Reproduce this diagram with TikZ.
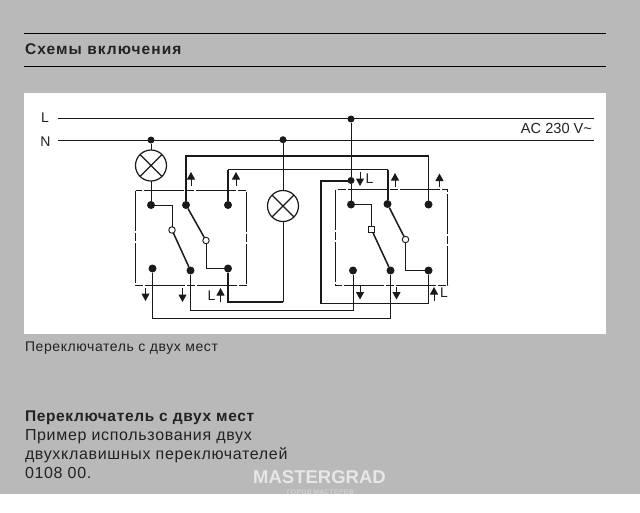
\documentclass[tikz,border=0pt]{standalone}
\usepackage{fontspec}
\setmainfont{Liberation Sans}
\newfontfamily\spacedfont[LetterSpace=4.2]{Liberation Sans}
\newfontfamily\titlefont[LetterSpace=7]{Liberation Sans}
\newfontfamily\markfont[LetterSpace=9]{Liberation Sans}
\usepackage{xcolor}
\usetikzlibrary{arrows.meta}
\definecolor{pageGrey}{HTML}{B9B9B9}
\definecolor{inkGrey}{HTML}{222222}
\definecolor{wireBlack}{HTML}{1A1A1A}
\begin{document}
\begin{tikzpicture}[
  x=1pt, y=-1pt,
  every node/.style={inner sep=0pt, outer sep=0pt, text=inkGrey},
  wire/.style={draw=wireBlack, line width=1pt},
  hwire/.style={draw=wireBlack, line width=2pt},
  arm/.style={draw=wireBlack, line width=1.5pt},
  rule/.style={draw=black, line width=0.8pt},
  housing/.style={draw=wireBlack, line width=0.8pt, dash pattern=on 40pt off 2pt on 8pt off 2pt},
  term/.style={circle, fill=wireBlack, minimum size=8pt},
  dotj/.style={circle, fill=wireBlack, minimum size=7pt},
  piv/.style={circle, draw=wireBlack, fill=white, line width=0.9pt, minimum size=6.5pt},
  pivs/.style={rectangle, draw=wireBlack, fill=white, line width=0.9pt, minimum size=6pt},
  lamp/.style={circle, draw=wireBlack, fill=white, line width=1.2pt, minimum size=31pt, path picture={
    \draw[wireBlack, line width=1.2pt] (path picture bounding box.south west) -- (path picture bounding box.north east)
      (path picture bounding box.north west) -- (path picture bounding box.south east);}},
  arr/.style={-{Triangle[length=7.5pt,width=8pt]}, draw=wireBlack, line width=1pt},
  lab/.style={font=\fontsize{14}{14}\selectfont, anchor=center},
  captxt/.style={font=\spacedfont\fontsize{16}{19}\selectfont, anchor=north west, align=left}
]
\useasboundingbox (0,0) rectangle (640,512);
\fill[pageGrey] (0,0) rectangle (640,493.5);
\fill[white] (24,92.5) rectangle (606,333.5);

% header
\coordinate (hA) at (24,33.5);
\coordinate (hB) at (606,33.5);
\coordinate (hC) at (24,66);
\coordinate (hD) at (606,66);
\draw[rule, line width=1.5pt] (hA) -- (hB);
\draw[rule] (hC) -- (hD);
\node[font=\titlefont\bfseries\fontsize{15.5}{15.5}\selectfont, anchor=west] (title) at (25,49) {Схемы включения};

% supply lines
\node[lab] (labL) at (45,118) {L};
\node[lab] (labN) at (45.5,141.5) {N};
\coordinate (L0) at (58,118.5);
\coordinate (L1) at (594,118.5);
\coordinate (N0) at (58,140.5);
\coordinate (N1) at (594,140.5);
\draw[wire] (L0) -- (L1);
\draw[wire] (N0) -- (N1);
\node[font=\fontsize{14.6}{14.6}\selectfont, anchor=east] (ac) at (592,128.5) {AC 230 V\char"7E};

% housings
\draw[housing] (135.5,190.5) rectangle (246.5,285.5);
\draw[housing] (335.5,189.5) rectangle (447.5,285.5);

% left switch
\node[term] (A1) at (151,205) {};
\node[term] (A2) at (186,205) {};
\node[term] (A3) at (228,205) {};
\node[term] (A4) at (152.5,268.5) {};
\node[term] (A5) at (190.5,270.5) {};
\node[term] (A6) at (228,268.5) {};
\node[dotj] (NA) at (151,140) {};
\node[lamp] (E1) at (151,165.5) {};
\draw[wire] (NA) -- (E1);
\draw[wire] (E1) -- (A1);

% right switch
\node[term] (B1) at (351,204.5) {};
\node[term] (B2) at (387.5,204) {};
\node[term] (B3) at (428.5,204.5) {};
\node[term] (B4) at (353,270.5) {};
\node[term] (B5) at (390.5,270.5) {};
\node[term] (B6) at (428.5,270.5) {};
\node[dotj] (LB) at (351,119) {};
\node[dotj] (JB) at (351,180.5) {};
\draw[wire] (LB) -- (JB);
\draw[wire] (JB) -- (B1);

% middle lamp
\node[dotj] (NM) at (283,139.7) {};
\node[lamp] (E2) at (283,206) {};
\draw[wire] (NM) -- (E2);
\draw[wire] (E2.south) -- (283,301.5) coordinate (cM);
\draw[hwire] (cM) -- (228,301.5) -- (A6);

% contacts, left
\node[piv] (P1) at (172,230) {};
\node[piv] (P2) at (206,240.5) {};
\draw[wire] (A1.center) -- (172,205) -- (P1);
\draw[arm] (P1) -- (A5);
\draw[arm] (A2) -- (P2);
\draw[wire] (P2) -- (206,268.5) -- (A6);

% contacts, right
\node[pivs] (Q1) at (371.5,229.5) {};
\node[piv] (Q2) at (405.5,239.5) {};
\draw[hwire, line width=1.5pt] (B1.center) -- (371.5,204.5) -- (Q1);
\draw[arm] (Q1) -- (B5);
\draw[arm] (B2) -- (Q2);
\draw[wire] (Q2) -- (405.5,270.5) -- (B6);

% travellers
\draw[hwire] (A2) -- (186,156) -- (428.5,156);
\draw[wire] (428.5,156) -- (B3);
\draw[hwire] (A3) -- (228,169.5);
\draw[wire] (228,169.5) -- (387.5,169.5);
\draw[hwire] (387.5,169.5) -- (B2);
\draw[hwire] (JB) -- (320.5,180.5) -- (320.5,303.5);
\draw[wire] (320.5,303.5) -- (428.5,303.5) -- (B6);
\draw[wire] (A5) -- (190.5,310.5) -- (353,310.5) -- (B4);
\draw[wire] (A4) -- (152.5,318.5) -- (390.5,318.5) -- (B5);

% arrows
\foreach \ax/\ay/\bx/\by in {191/185.5/191/172, 236/185.5/236/172, 220.5/302/220.5/288, 145.5/288/145.5/301, 182.5/288/182.5/302,
    360/172/360/186, 395/187/395/173, 439.5/187/439.5/173.5, 360/286/360/299.5, 396.5/286.5/396.5/299.5, 434/300.5/434/287}
  \draw[arr] (\ax,\ay) -- (\bx,\by);
\node[lab] (lA) at (211.5,296) {L};
\node[lab] (lB) at (369.5,178.5) {L};
\node[lab] (lC) at (444,292.5) {L};

% captions
\node[font=\spacedfont\fontsize{14}{14}\selectfont, anchor=west] (cap0) at (25,348) {Переключатель с двух мест};
\node[captxt] (cap1) at (25,410.5) {{\bfseries\fontsize{15.5}{19}\selectfont Переключатель с двух мест}\\Пример использования двух\\двухклавишных переключателей\\0108 00.};

% watermark
\node[font=\bfseries\fontsize{18.5}{18.5}\selectfont, text=white!65!pageGrey, anchor=center] (wm) at (319.5,477.5) {MASTERGRAD};
\node[font=\markfont\fontsize{6.5}{6.5}\selectfont, text=white!50!pageGrey, anchor=center] (wm2) at (320.5,492.5) {ГОРОД МАСТЕРОВ};
\end{tikzpicture}
\end{document}
